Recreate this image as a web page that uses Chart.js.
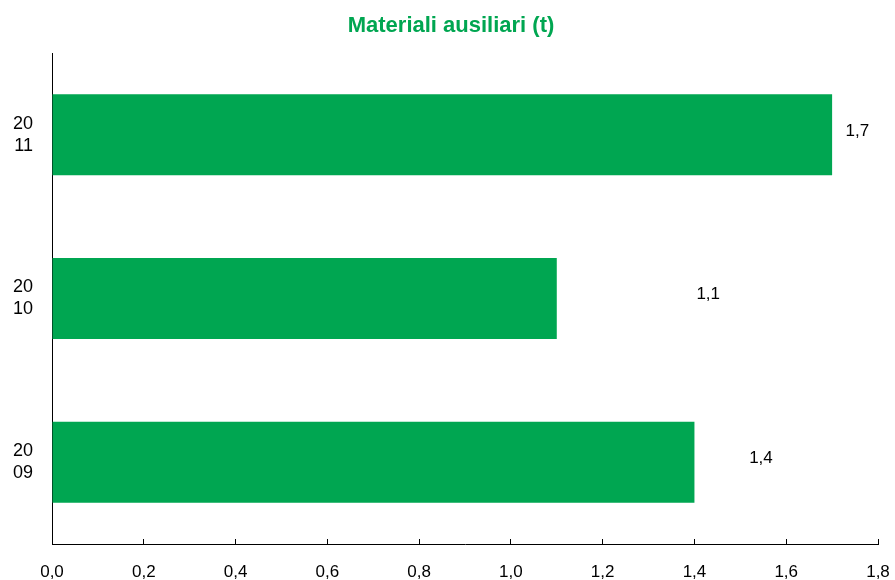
<!DOCTYPE html>
<html>
<head>
<meta charset="utf-8">
<script src="https://cdn.jsdelivr.net/npm/chart.js@4/dist/chart.umd.min.js"></script>
<style>
  html, body { margin: 0; padding: 0; background: #fff; }
  #wrap { width: 895px; height: 580px; }
</style>
</head>
<body>
<div id="wrap"><canvas id="chart"></canvas></div>
<script>
// data
var years = ['2011', '2010', '2009'];
var values = [1.7, 1.1, 1.4];
// where the value labels sit, in axis units (they are not aligned to the bar ends)
var labelAt = [1.755, 1.43, 1.545];
var xTicks = [0, 0.2, 0.4, 0.6, 0.8, 1.0, 1.2, 1.4, 1.6, 1.8];

var green = '#00A651';
var font = "'Liberation Sans', Arial, sans-serif";

function comma(v) {
    return v.toFixed(1).replace('.', ',');
}

// value labels next to the bars
var valueLabels = {
    id: 'valueLabels',
    afterDatasetsDraw: function(chart) {
        var ctx = chart.ctx;
        var meta = chart.getDatasetMeta(0);
        var xs = chart.scales.x;
        ctx.save();
        ctx.font = '17px ' + font;
        ctx.fillStyle = '#000';
        ctx.textAlign = 'center';
        ctx.textBaseline = 'middle';
        for (var i in values) {
            ctx.fillText(comma(values[i]), xs.getPixelForValue(labelAt[i]), meta.data[i].y - 4);
        }
        ctx.restore();
    }
};

new Chart(document.getElementById('chart'), {
    type: 'bar',
    data: {
        labels: years,
        datasets: [{
            data: values,
            backgroundColor: green,
            borderWidth: 0,
            barPercentage: 0.495,
            categoryPercentage: 1
        }]
    },
    plugins: [valueLabels],
    options: {
        indexAxis: 'y',
        responsive: true,
        maintainAspectRatio: false,
        animation: false,
        layout: { padding: { left: 7, right: 0, top: 0, bottom: 0 } },
        plugins: {
            legend: { display: false },
            tooltip: { enabled: false },
            title: {
                display: true,
                text: 'Materiali ausiliari (t)',
                color: green,
                font: { family: font, size: 22, weight: 'bold', lineHeight: 1.2 },
                padding: { top: 13, bottom: 13.6 }
            }
        },
        scales: {
            x: {
                min: 0,
                max: 1.8,
                afterBuildTicks: function(scale) {
                    scale.ticks = xTicks.map(function(v) { return { value: v }; });
                },
                afterFit: function(scale) {
                    scale.height = 36;
                    scale.paddingLeft = 0;
                    scale.paddingRight = 17;
                },
                border: { display: true, color: '#000', width: 1 },
                grid: { drawOnChartArea: false, drawTicks: true, tickLength: -5, color: '#000' },
                ticks: {
                    padding: 23,
                    color: '#000',
                    maxRotation: 0,
                    autoSkip: false,
                    font: { family: font, size: 17 },
                    callback: function(v) { return comma(v); }
                }
            },
            y: {
                afterFit: function(scale) {
                    scale.width = 45;
                    scale.paddingTop = 0;
                    scale.paddingBottom = 0;
                },
                border: { display: true, color: '#000', width: 1 },
                grid: { display: false, drawTicks: false },
                ticks: {
                    padding: 19,
                    color: '#000',
                    font: { family: font, size: 18, lineHeight: 1.22 },
                    callback: function(v, i) {
                        var y = years[i];
                        return [y.slice(0, 2), y.slice(2)];
                    }
                }
            }
        }
    }
});
</script>
</body>
</html>
